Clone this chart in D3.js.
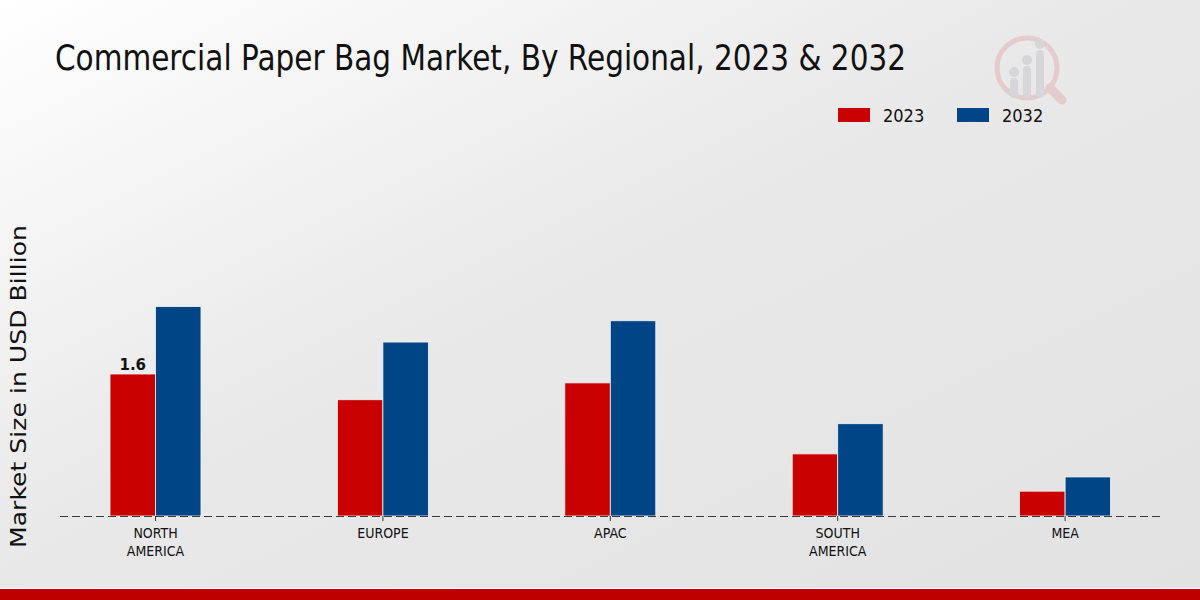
<!DOCTYPE html>
<html><head><meta charset="utf-8">
<script src="https://cdn.jsdelivr.net/npm/d3@7/dist/d3.min.js"></script>
<style>
html,body{margin:0;padding:0;}
svg{display:block;}
</style>
</head><body>
<div id="chart"></div>
<script>
const categories = ["NORTH AMERICA", "EUROPE", "APAC", "SOUTH AMERICA", "MEA"];
const tickLabels = [["NORTH","AMERICA"],["EUROPE"],["APAC"],["SOUTH","AMERICA"],["MEA"]];
const seriesNames = ["2023", "2032"];
const values2023 = [1.6, 1.31, 1.5, 0.7, 0.28];
const values2032 = [2.36, 1.96, 2.2, 1.04, 0.44];
const colors = ["#c80000", "#004687"];

const W = 1200, H = 600;
const svg = d3.select("#chart").append("svg").attr("width", W).attr("height", H);
const defs = svg.append("defs");
const grad = defs.append("linearGradient").attr("id","bg").attr("x1","0%").attr("y1","0%").attr("x2","100%").attr("y2","100%");
grad.append("stop").attr("offset","0%").attr("stop-color","#ffffff");
grad.append("stop").attr("offset","45%").attr("stop-color","#e9e9e9");
grad.append("stop").attr("offset","100%").attr("stop-color","#e2e2e2");
svg.append("rect").attr("width",W).attr("height",H).attr("fill","url(#bg)");

// bottom red strip
svg.append("rect").attr("x",0).attr("y",588).attr("width",W).attr("height",1).attr("fill","#ffffff");
svg.append("rect").attr("x",0).attr("y",589).attr("width",W).attr("height",11).attr("fill","#bf0000");

// logo (faint)
const logo = svg.append("g").attr("opacity",0.55);
logo.append("circle").attr("cx",1027).attr("cy",68).attr("r",30).attr("fill","none").attr("stroke","#e0b4b8").attr("stroke-width",5);
logo.append("line").attr("x1",1050).attr("y1",88).attr("x2",1062).attr("y2",100).attr("stroke","#e0b4b8").attr("stroke-width",9).attr("stroke-linecap","round");
[[1014,78,20],[1027,66,32],[1040,50,48]].forEach(([x,y,h])=>{
  logo.append("rect").attr("x",x-4).attr("y",y).attr("width",8).attr("height",h).attr("rx",4).attr("fill","#c8c8cc");
  logo.append("circle").attr("cx",x).attr("cy",y-6).attr("r",5).attr("fill","#c8c8cc");
});

// title
svg.append("text").attr("x",55).attr("y",70)
  .attr("font-family","'DejaVu Sans',sans-serif")
  .attr("font-size",36).attr("fill","#111")
  .attr("textLength",851).attr("lengthAdjust","spacingAndGlyphs")
  .text("Commercial Paper Bag Market, By Regional, 2023 & 2032");

// scales
const baseY = 516;
const x0 = d3.scaleBand().domain(categories).range([41.8, 1178.8]).paddingInner(0.6).paddingOuter(0.3);
const x1 = d3.scaleBand().domain(seriesNames).range([0, x0.bandwidth()]);
const y = d3.scaleLinear().domain([0, 3]).range([baseY, baseY - 266.25]);

const data = categories.map((c,i)=>({cat:c, vals:[values2023[i], values2032[i]]}));

const g = svg.append("g");
data.forEach(d=>{
  const gg = g.append("g").attr("transform",`translate(${x0(d.cat)},0)`);
  gg.selectAll("rect").data(d.vals).join("rect")
    .attr("x",(v,j)=>x1(seriesNames[j]))
    .attr("y",v=>y(v))
    .attr("width",x1.bandwidth())
    .attr("height",v=>y(0)-y(v))
    .attr("fill",(v,j)=>colors[j])
    .attr("stroke","#f4f4f4").attr("stroke-width",0.8);
});

// value label
svg.append("text")
  .attr("x", x0(categories[0]) + x1(seriesNames[0]) + x1.bandwidth()/2)
  .attr("y", y(values2023[0]) - 4)
  .attr("text-anchor","middle").attr("font-family","'DejaVu Sans',sans-serif")
  .attr("font-weight","bold").attr("font-size",15).attr("fill","#111").text(values2023[0]);

// x axis
const xAxis = d3.axisBottom(x0).tickSize(5).tickFormat("");
const ax = svg.append("g").attr("transform",`translate(0,${baseY})`).call(xAxis);
ax.select(".domain").remove();
ax.selectAll(".tick line").attr("stroke","#333");
ax.selectAll(".tick").attr("transform", d=>`translate(${x0(d)+x0.bandwidth()/2},0)`);
ax.selectAll(".tick").each(function(d,i){
  const t = d3.select(this).append("text").attr("fill","#111")
    .attr("font-family","'DejaVu Sans Condensed','DejaVu Sans',sans-serif").attr("font-stretch","condensed")
    .attr("font-size",14).attr("text-anchor","middle");
  tickLabels[i].forEach((s,k)=>t.append("tspan").attr("x",0).attr("y",22+k*18).text(s));
});
svg.append("line").attr("x1",60).attr("x2",1160).attr("y1",baseY+0.5).attr("y2",baseY+0.5)
  .attr("stroke","#3a3a3a").attr("stroke-width",1).attr("stroke-dasharray","8,4");

// y label
svg.append("text").attr("transform","translate(26,386.5) rotate(-90)").attr("text-anchor","middle")
  .attr("font-family","'DejaVu Sans',sans-serif").attr("font-size",22).attr("fill","#111")
  .attr("textLength",323).attr("lengthAdjust","spacingAndGlyphs")
  .text("Market Size in USD Billion");

// legend
const leg = svg.append("g");
const legX = [838, 957];
seriesNames.forEach((s,i)=>{
  leg.append("rect").attr("x",legX[i]).attr("y",108).attr("width",32).attr("height",14).attr("fill",colors[i]);
  leg.append("text").attr("x",legX[i]+45).attr("y",122)
    .attr("font-family","'DejaVu Sans Condensed','DejaVu Sans',sans-serif").attr("font-stretch","condensed")
    .attr("font-size",18).attr("fill","#111").text(s);
});
</script>
</body></html>
